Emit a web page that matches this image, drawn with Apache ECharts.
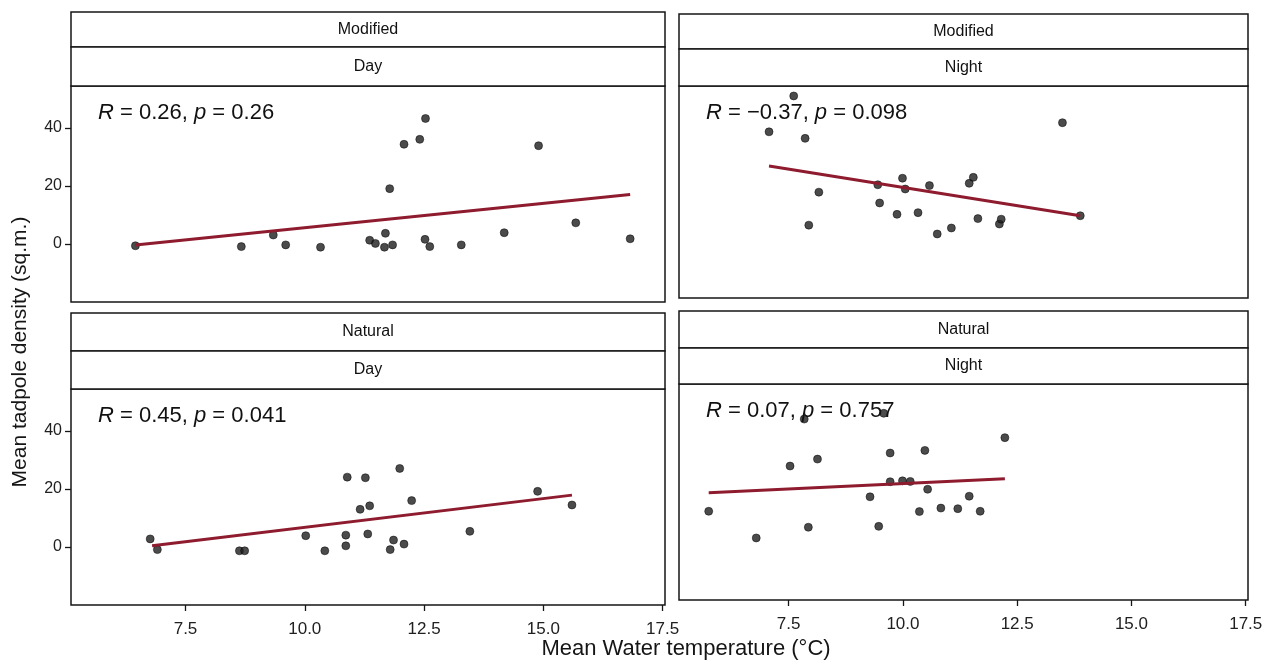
<!DOCTYPE html>
<html>
<head>
<meta charset="utf-8">
<title>Tadpole density vs water temperature</title>
<script src="https://cdn.jsdelivr.net/npm/echarts@6/dist/echarts.min.js"></script>
<style>
  html, body { margin: 0; padding: 0; background: #ffffff; }
  #chart { width: 1272px; height: 664px; }
</style>
</head>
<body>
<div id="chart"></div>
<script>
// Axis ticks
const xTicks = [7.5, 10, 12.5, 15, 17.5];
const yTicks = [0, 20, 40];

// Facet labels
const habitats = ['Modified', 'Modified', 'Natural', 'Natural'];
const periods = ['Day', 'Night', 'Day', 'Night'];
const corrLabels = [
  ['0.26', '0.26'],
  ['\u22120.37', '0.098'],
  ['0.45', '0.041'],
  ['0.07', '0.757']
];

// Modified / Day
const modDayTemp = [6.45, 8.67, 9.34, 9.6, 10.33, 11.36, 11.48, 11.67, 11.69, 11.84, 11.78, 12.08, 12.41, 12.53, 12.52, 12.62, 13.28, 14.18, 14.9, 15.68, 16.82];
const modDayDensity = [-0.6, -0.9, 3.1, -0.3, -1.1, 1.3, 0.2, -1.1, 3.7, -0.3, 19.1, 34.4, 36.1, 43.3, 1.6, -0.9, -0.3, 3.9, 33.9, 7.3, 1.8];
const modDayFit = [[6.45, -0.3], [16.82, 17.1]];

// Modified / Night
const modNightTemp = [7.61, 7.07, 7.86, 8.16, 7.94, 9.45, 9.49, 9.99, 10.05, 9.87, 10.33, 10.58, 10.75, 11.06, 11.45, 11.54, 11.64, 12.11, 12.15, 13.49, 13.88];
const modNightDensity = [51.0, 38.4, 36.1, 17.2, 5.6, 19.8, 13.4, 22.1, 18.3, 9.4, 10.0, 19.5, 2.5, 4.6, 20.3, 22.4, 7.9, 6.0, 7.7, 41.6, 8.9];
const modNightFit = [[7.07, 26.4], [13.88, 8.9]];

// Natural / Day
const natDayTemp = [6.76, 6.91, 8.63, 8.74, 10.02, 10.42, 10.86, 10.86, 10.89, 11.16, 11.27, 11.36, 11.32, 11.79, 11.86, 11.99, 12.08, 12.24, 13.46, 14.88, 15.6];
const natDayDensity = [2.8, -0.9, -1.3, -1.3, 3.9, -1.3, 0.4, 4.1, 24.1, 13.0, 23.9, 14.2, 4.5, -0.9, 2.4, 27.1, 1.0, 16.0, 5.4, 19.2, 14.5];
const natDayFit = [[6.8, 0.4], [15.6, 17.9]];

// Natural / Night
const natNightTemp = [5.75, 6.79, 7.53, 7.84, 7.93, 8.13, 9.28, 9.47, 9.58, 9.72, 9.72, 9.99, 10.16, 10.36, 10.48, 10.54, 10.83, 11.2, 11.45, 11.69, 12.23];
const natNightDensity = [10.6, 1.4, 26.2, 42.4, 5.1, 28.6, 15.6, 5.4, 44.4, 30.7, 20.8, 21.1, 20.9, 10.5, 31.6, 18.2, 11.7, 11.5, 15.8, 10.6, 36.0];
const natNightFit = [[5.75, 17.0], [12.23, 21.8]];

const panelTemps = [modDayTemp, modNightTemp, natDayTemp, natNightTemp];
const panelDensities = [modDayDensity, modNightDensity, natDayDensity, natNightDensity];
const panelFits = [modDayFit, modNightFit, natDayFit, natNightFit];

// Panel geometry (left, top, width, height) and strip bands
const panels = [
  { left: 71, top: 86, width: 594, height: 216, stripTop: 12, stripMid: 47 },
  { left: 679, top: 86, width: 569, height: 212, stripTop: 14, stripMid: 49 },
  { left: 71, top: 389, width: 594, height: 216, stripTop: 313, stripMid: 351 },
  { left: 679, top: 384, width: 569, height: 216, stripTop: 311, stripMid: 348 }
];

const FONT = '"Liberation Sans", Arial, Helvetica, sans-serif';
const ink = '#161616';
const fitColor = '#8e1b2e';

const chart = echarts.init(document.getElementById('chart'), null, { renderer: 'canvas' });

const grids = panels.map(p => ({
  left: p.left, top: p.top, width: p.width, height: p.height,
  show: true, borderColor: ink, borderWidth: 1.5, backgroundColor: '#ffffff',
  containLabel: false
}));

const xAxes = panels.map((p, i) => {
  const bottomRow = i >= 2;
  return {
    type: 'value', gridIndex: i, min: 5.1, max: 17.55, position: 'bottom',
    splitLine: { show: false },
    axisLine: { show: false, onZero: false },
    axisTick: {
      show: bottomRow, customValues: xTicks, length: 6,
      lineStyle: { color: ink, width: 1.3 }
    },
    axisLabel: {
      show: bottomRow, customValues: xTicks, margin: 16,
      formatter: v => v.toFixed(1),
      fontFamily: FONT, fontSize: 17, color: '#202020'
    }
  };
});

const yAxes = panels.map((p, i) => {
  const leftCol = i % 2 === 0;
  return {
    type: 'value', gridIndex: i, min: -20, max: 54.5, position: 'left',
    splitLine: { show: false },
    axisLine: { show: false, onZero: false },
    axisTick: {
      show: leftCol, customValues: yTicks, length: 6,
      lineStyle: { color: ink, width: 1.3 }
    },
    axisLabel: {
      show: leftCol, customValues: yTicks, margin: 9,
      fontFamily: FONT, fontSize: 16, color: '#202020'
    }
  };
});

const series = [];
panels.forEach((p, i) => {
  series.push({
    type: 'scatter', xAxisIndex: i, yAxisIndex: i,
    data: panelTemps[i].map((t, k) => [t, panelDensities[i][k]]),
    symbolSize: 8,
    itemStyle: { color: '#1e1e1e', borderColor: '#000', borderWidth: 0.6 },
    silent: true, z: 2
  });
  series.push({
    type: 'line', xAxisIndex: i, yAxisIndex: i,
    data: panelFits[i], showSymbol: false, symbol: 'none',
    lineStyle: { color: fitColor, width: 3 },
    silent: true, z: 3
  });
});

const graphics = [];
panels.forEach((p, i) => {
  // two stacked facet strips
  graphics.push({
    type: 'rect', z: 10,
    shape: { x: p.left, y: p.stripTop, width: p.width, height: p.stripMid - p.stripTop },
    style: { fill: '#ffffff', stroke: ink, lineWidth: 1.5 }
  });
  graphics.push({
    type: 'rect', z: 10,
    shape: { x: p.left, y: p.stripMid, width: p.width, height: p.top - p.stripMid },
    style: { fill: '#ffffff', stroke: ink, lineWidth: 1.5 }
  });
  graphics.push({
    type: 'text', z: 11,
    x: p.left + p.width / 2, y: (p.stripTop + p.stripMid) / 2,
    style: {
      text: habitats[i], fontFamily: FONT, fontSize: 16, fill: '#111',
      align: 'center', verticalAlign: 'middle'
    }
  });
  graphics.push({
    type: 'text', z: 11,
    x: p.left + p.width / 2, y: (p.stripMid + p.top) / 2,
    style: {
      text: periods[i], fontFamily: FONT, fontSize: 16, fill: '#111',
      align: 'center', verticalAlign: 'middle'
    }
  });
  // correlation annotation
  graphics.push({
    type: 'text', z: 12,
    x: p.left + 27, y: p.top + 27,
    style: {
      text: '{i|R} = ' + corrLabels[i][0] + ', {i|p} = ' + corrLabels[i][1],
      fontFamily: FONT, fontSize: 22, fill: '#111',
      verticalAlign: 'middle', align: 'left',
      rich: { i: { fontStyle: 'italic', fontFamily: FONT, fontSize: 22, fill: '#111' } }
    }
  });
});

// shared axis titles
graphics.push({
  type: 'text', z: 12,
  x: 686, y: 649,
  style: {
    text: 'Mean Water temperature (\u00B0C)', fontFamily: FONT, fontSize: 22,
    fill: '#151515', align: 'center', verticalAlign: 'middle'
  }
});
graphics.push({
  type: 'text', z: 12,
  x: 20, y: 352, rotation: Math.PI / 2,
  style: {
    text: 'Mean tadpole density (sq.m.)', fontFamily: FONT, fontSize: 21,
    fill: '#151515', align: 'center', verticalAlign: 'middle'
  }
});

chart.setOption({
  backgroundColor: '#ffffff',
  animation: false,
  grid: grids,
  xAxis: xAxes,
  yAxis: yAxes,
  series: series,
  graphic: graphics
});
</script>
</body>
</html>
